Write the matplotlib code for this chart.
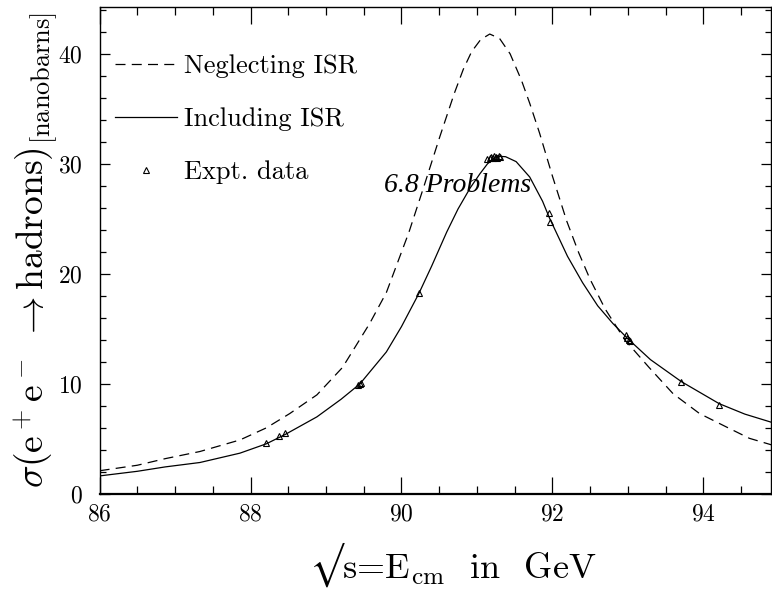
import matplotlib
matplotlib.use('Agg')
import matplotlib.pyplot as plt
from matplotlib.ticker import MultipleLocator

plt.rcParams['font.family'] = ['cmr10', 'DejaVu Serif']
plt.rcParams['mathtext.fontset'] = 'cm'
plt.rcParams['axes.formatter.use_mathtext'] = True

# curve without initial state radiation
e_noisr = [86.0, 86.5, 86.87, 87.33, 87.86, 88.21, 88.52, 88.88, 89.22, 89.58,
           89.8, 90.1, 90.3, 90.51, 90.7, 90.82, 90.93, 91.05, 91.17, 91.3,
           91.44, 91.59, 91.7, 91.83, 92.0, 92.19, 92.35, 92.5, 92.7, 92.96,
           93.28, 93.6, 93.95, 94.3, 94.61, 94.93]
sig_noisr = [2.1, 2.6, 3.2, 3.85, 4.9, 6.0, 7.3, 9.0, 11.5, 15.5,
             18.3, 23.8, 28.0, 32.5, 36.4, 38.6, 40.2, 41.3, 41.8, 41.4,
             40.0, 37.6, 35.5, 32.8, 28.9, 24.8, 21.9, 19.5, 16.8, 14.0,
             11.5, 9.1, 7.3, 6.1, 5.05, 4.4]

# curve including ISR
e_isr = [86.0, 86.5, 86.87, 87.33, 87.86, 88.21, 88.46, 88.88, 89.2, 89.45,
         89.8, 90.0, 90.23, 90.4, 90.6, 90.75, 90.91, 91.04, 91.14, 91.26,
         91.38, 91.52, 91.7, 91.87, 91.96, 92.2, 92.4, 92.6, 92.8, 93.0,
         93.3, 93.71, 94.21, 94.55, 94.93]
sig_isr = [1.63, 2.05, 2.45, 2.85, 3.7, 4.55, 5.4, 7.0, 8.6, 10.0,
           12.9, 15.2, 18.2, 20.7, 23.8, 25.9, 27.8, 29.1, 30.0, 30.7,
           30.65, 30.2, 28.8, 26.6, 25.1, 21.6, 19.2, 17.1, 15.5, 14.1,
           12.2, 10.2, 8.2, 7.25, 6.45]

# measured points
e_data = [88.21, 88.38, 88.46, 89.43, 89.45, 89.47, 90.23,
          91.13, 91.17, 91.19, 91.21, 91.23, 91.25, 91.27, 91.29, 91.31,
          91.96, 91.97, 92.97, 92.99, 93.01, 93.03, 93.71, 94.21]
sig_data = [4.6, 5.3, 5.5, 9.9, 10.0, 10.1, 18.3,
            30.4, 30.5, 30.6, 30.5, 30.7, 30.6, 30.5, 30.7, 30.6,
            25.5, 24.7, 14.4, 14.2, 14.0, 13.9, 10.15, 8.05]

fig = plt.figure(figsize=(7.72, 5.95), dpi=100)
ax = fig.add_axes([0.129, 0.170, 0.870, 0.819])

ax.plot(e_noisr, sig_noisr, color='black', lw=0.9, ls=(0, (8, 5)),
        label='Neglecting ISR')
ax.plot(e_isr, sig_isr, color='black', lw=0.9, label='Including ISR')
ax.plot(e_data, sig_data, ls='none', marker='^', ms=5, mfc='none',
        mec='black', mew=0.8, label='Expt. data')

ax.set_xlim(86, 94.9)
ax.set_ylim(0, 44.3)
ax.xaxis.set_major_locator(MultipleLocator(2))
ax.xaxis.set_minor_locator(MultipleLocator(0.5))
ax.yaxis.set_major_locator(MultipleLocator(10))
ax.yaxis.set_minor_locator(MultipleLocator(2))

ax.tick_params(which='both', direction='in', top=True, right=True,
               labelsize=17, width=0.9)
ax.tick_params(axis='x', which='major', length=12, pad=7)
ax.tick_params(axis='x', which='minor', length=6)
ax.tick_params(axis='y', which='major', length=7.5, pad=12)
ax.tick_params(axis='y', which='minor', length=4)
for s in ax.spines.values():
    s.set_linewidth(1.0)
ax.spines['bottom'].set_linewidth(1.6)

ax.set_xlabel('$\u221a$s=$\\mathrm{E_{cm}}$  in  GeV', fontsize=26)
ax.set_ylabel(r'$\sigma(\mathrm{e^+e^-}\ \rightarrow\mathrm{hadrons})_{\mathrm{[nanobarns]}}$',
              fontsize=27)
ax.xaxis.set_label_coords(0.525, -0.095)
ax.yaxis.set_label_coords(-0.06, 0.50)

ax.legend(loc='upper left', bbox_to_anchor=(0.0, 0.935), frameon=False,
          fontsize=19, handlelength=2.35, handletextpad=0.25,
          labelspacing=1.12, numpoints=1, borderaxespad=0.2)

ax.text(0.424, 0.632, '6.8 Problems', transform=ax.transAxes,
        family=['Liberation Serif'], style='italic', fontsize=20,
        va='center', ha='left')

fig.savefig('out.png', dpi=100)
